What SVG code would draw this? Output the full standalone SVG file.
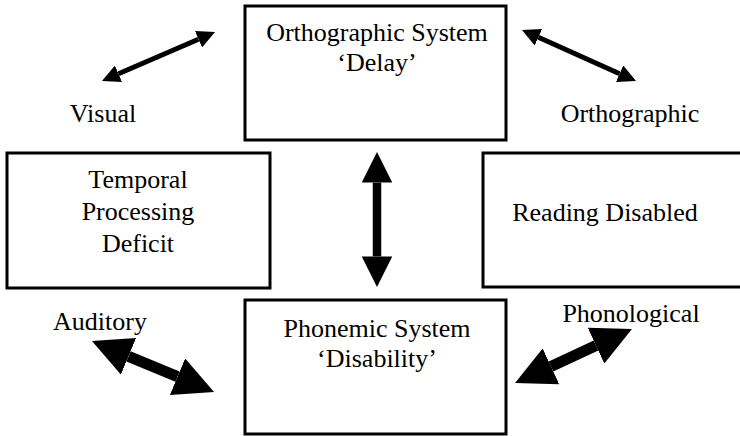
<svg xmlns="http://www.w3.org/2000/svg" width="740" height="436" viewBox="0 0 740 436">
<defs>
<style>
.box{fill:#fff;stroke:#000;stroke-width:3}
.t{font-family:"Liberation Serif","Times New Roman",serif;font-size:26px;fill:#000;text-anchor:middle}
.a{stroke:#000;fill:none}
</style>
<marker id="ah" viewBox="0 0 10 10" refX="0" refY="5" markerWidth="3.6" markerHeight="3.6" markerUnits="strokeWidth" orient="auto-start-reverse">
<path d="M0,0 L10,5 L0,10 z" fill="#000"/>
</marker>
</defs>
<rect width="740" height="436" fill="#fff"/>
<g id="ortho-system">
<rect class="box" x="245" y="6" width="261" height="134"/>
<text class="t" x="377" y="41">Orthographic System</text>
<text class="t" x="377" y="71">‘Delay’</text>
</g>
<g id="temporal">
<rect class="box" x="7" y="153" width="263" height="135"/>
<text class="t" x="138" y="188">Temporal</text>
<text class="t" x="138" y="220">Processing</text>
<text class="t" x="138" y="252">Deficit</text>
</g>
<g id="reading">
<rect class="box" x="483" y="153" width="262" height="134"/>
<text class="t" x="605" y="221">Reading Disabled</text>
</g>
<g id="phonemic">
<rect class="box" x="245" y="300" width="261" height="134"/>
<text class="t" x="377" y="337">Phonemic System</text>
<text class="t" x="377" y="367">‘Disability’</text>
</g>
<g id="visual"><text class="t" x="103" y="122">Visual</text></g>
<g id="orthographic"><text class="t" x="630" y="122">Orthographic</text></g>
<g id="auditory"><text class="t" x="100" y="330">Auditory</text></g>
<g id="phonological"><text class="t" x="631" y="322">Phonological</text></g>
<g id="connectors">
<line class="a" x1="118.5" y1="73.8" x2="198.5" y2="39.2" stroke-width="5" marker-start="url(#ah)" marker-end="url(#ah)"/>
<line class="a" x1="538.4" y1="37.3" x2="619.6" y2="73.7" stroke-width="5" marker-start="url(#ah)" marker-end="url(#ah)"/>
<line class="a" x1="377" y1="182.6" x2="377" y2="256.4" stroke-width="8.5" marker-start="url(#ah)" marker-end="url(#ah)"/>
<line class="a" x1="128.5" y1="356.3" x2="177.5" y2="376.7" stroke-width="11" marker-start="url(#ah)" marker-end="url(#ah)"/>
<line class="a" x1="551" y1="366.4" x2="596" y2="345.6" stroke-width="11" marker-start="url(#ah)" marker-end="url(#ah)"/>
</g>
</svg>
